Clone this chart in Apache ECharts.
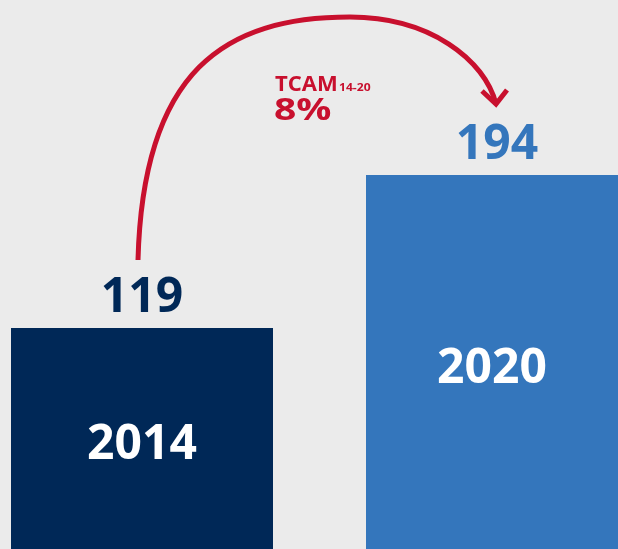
<!DOCTYPE html>
<html><head><meta charset="utf-8">
<script src="https://cdn.jsdelivr.net/npm/echarts@6/dist/echarts.min.js"></script>
<style>html,body{margin:0;padding:0;background:#ebebeb}#c{width:618px;height:549px}</style>
</head><body><div id="c"></div>
<script>
const categories = ['2014', '2020'];
const values = [119, 194];
const barColors = ['#002857', '#3476bc'];
const growthLabel = 'TCAM';
const growthPeriod = '14-20';
const growthRate = '8%';

const FONT = '"Open Sans", sans-serif';
const RED = '#c8102e';
const chart = echarts.init(document.getElementById('c'), null, {renderer: 'canvas'});
const option = {
  backgroundColor: '#ebebeb',
  animation: false,
  grid: {left: -35.5, right: -56.5, top: 60.8, bottom: -21.8, containLabel: false, outerBoundsMode: 'none'},
  xAxis: {type: 'category', data: categories, show: false},
  yAxis: {type: 'value', min: 0, max: 250, show: false},
  series: [
    {
      type: 'bar', barWidth: 262, clip: false,
      data: values.map((v, i) => ({value: v, itemStyle: {color: barColors[i]},
        label: {offset: i === 0 ? [0, -4] : [-5, -4]}})),
      label: {show: true, position: 'inside', formatter: '{b}', color: '#fff',
        fontFamily: FONT, fontWeight: 'bold', fontSize: 48}
    },
    {
      type: 'scatter', symbolSize: 0, itemStyle: {opacity: 1},
      data: values.map((v, i) => ({value: v, label: {color: barColors[i]}})),
      label: {show: true, position: 'top', distance: 6, formatter: '{c}',
        fontFamily: FONT, fontWeight: 'bold', fontSize: 48}
    }
  ]
};
chart.setOption(option);

const s = chart.convertToPixel({seriesIndex: 0}, [0, values[0]]);
const e = chart.convertToPixel({seriesIndex: 0}, [1, values[1]]);
const p0 = [s[0] - 4, s[1] - 68];
const peak = [e[0] - 147, e[1] - 158];
const tip = [e[0] - 1, e[1] - 71];
const lineStyle = {stroke: RED, lineWidth: 5, fill: null};
chart.setOption({
  graphic: [
    {type: 'bezierCurve', silent: true,
      shape: {x1: p0[0], y1: p0[1], cpx1: p0[0] + 5, cpy1: p0[1] - 190,
        cpx2: peak[0] - 125, cpy2: peak[1], x2: peak[0], y2: peak[1]},
      style: lineStyle},
    {type: 'bezierCurve', silent: true,
      shape: {x1: peak[0], y1: peak[1], cpx1: peak[0] + 80, cpy1: peak[1],
        cpx2: tip[0] - 11, cpy2: tip[1] - 44, x2: tip[0], y2: tip[1]},
      style: lineStyle},
    {type: 'polyline', silent: true,
      shape: {points: [[tip[0] - 14, tip[1] - 13], tip, [tip[0] + 11, tip[1] - 14]]},
      style: {stroke: RED, lineWidth: 5, fill: null, lineJoin: 'miter'}},
    {type: 'text', silent: true, x: 275, y: 75, scaleX: 1.05,
      style: {text: growthLabel, fill: RED, font: 'bold 21px ' + FONT, verticalAlign: 'top'}},
    {type: 'text', silent: true, x: 339, y: 93, scaleX: 1.1,
      style: {text: growthPeriod, fill: RED, font: 'bold 11px ' + FONT, verticalAlign: 'bottom'}},
    {type: 'text', silent: true, x: 274, y: 96, scaleX: 1.3,
      style: {text: growthRate, fill: RED, font: 'bold 30px ' + FONT, verticalAlign: 'top'}}
  ]
});
</script></body></html>
